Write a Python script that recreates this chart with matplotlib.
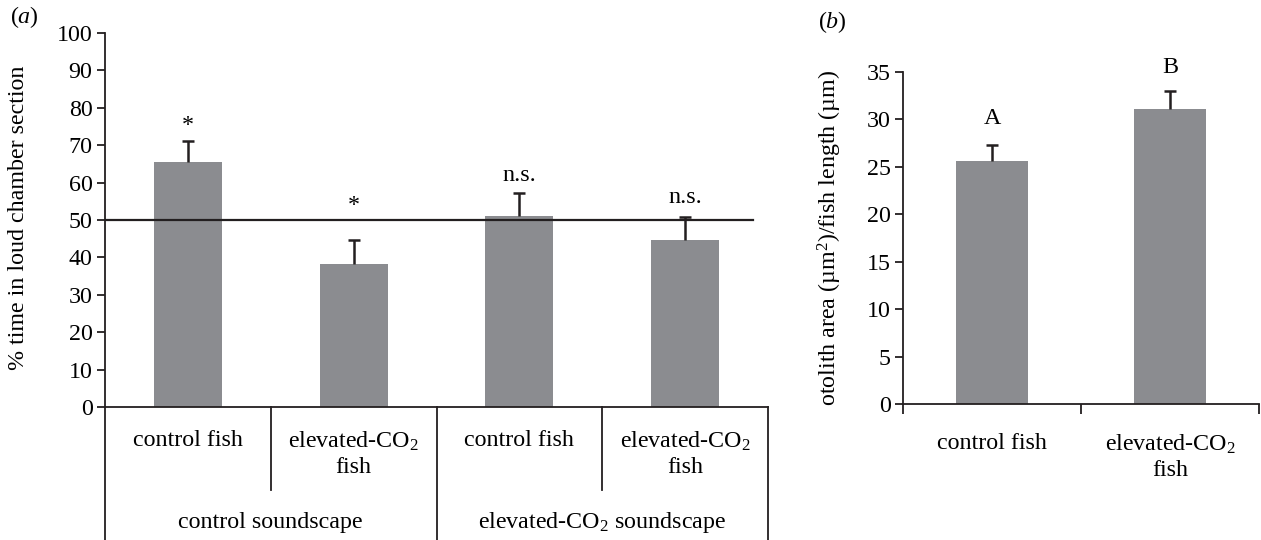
import matplotlib
matplotlib.use("Agg")
import matplotlib.pyplot as plt
import matplotlib.transforms as mtransforms

plt.rcParams['font.family'] = ['Liberation Serif', 'DejaVu Serif']
plt.rcParams['mathtext.fontset'] = 'custom'
plt.rcParams['mathtext.rm'] = 'Liberation Serif'
plt.rcParams['mathtext.it'] = 'Liberation Serif:italic'
plt.rcParams['mathtext.default'] = 'regular'
FS = 17.3

# panel (a) data
a_fish = ['control fish', 'elevated-CO$_2$\nfish', 'control fish', 'elevated-CO$_2$\nfish']
a_scape = ['control soundscape', 'elevated-CO$_2$ soundscape']
a_vals = [65.6, 38.2, 51.0, 44.6]
a_err = [5.5, 6.4, 6.1, 6.1]
a_sig = ['*', '*', 'n.s.', 'n.s.']
a_sig_y = [75.4, 53.8, 62.0, 56.0]
a_ticks = list(range(0, 101, 10))

# panel (b) data
b_cats = ['control fish', 'elevated-CO$_2$\nfish']
b_vals = [25.6, 31.1]
b_err = [1.7, 1.9]
b_sig = ['A', 'B']
b_sig_y = [30.1, 35.5]
b_ticks = list(range(0, 36, 5))

BAR = '#8b8c90'
INK = '#231f20'

fig = plt.figure(figsize=(12.61, 5.40), dpi=100)
axa = fig.add_axes([105/1261, 1-407/540, (768-105)/1261, (407-33)/540])
axb = fig.add_axes([903/1261, 1-404/540, (1259-903)/1261, (404-72)/540])

for ax in (axa, axb):
    for s in ('top', 'right'):
        ax.spines[s].set_visible(False)
    for s in ('left', 'bottom'):
        ax.spines[s].set_linewidth(1.3)
        ax.spines[s].set_color(INK)
    ax.tick_params(axis='y', direction='out', length=6, width=1.3, color=INK, labelsize=FS, pad=3)


def upper_errbar(ax, x, v, e):
    _, caps, _ = ax.errorbar(x, v, yerr=[[0]*len(e), e], fmt='none', ecolor=INK,
                             elinewidth=1.8, capsize=4.5, capthick=1.8, zorder=3)
    caps[0].set_visible(False)


# ---- panel (a)
xa = range(len(a_vals))
axa.bar(xa, a_vals, width=0.41, color=BAR, zorder=2)
upper_errbar(axa, xa, a_vals, a_err)
axa.axhline(50, xmin=0, xmax=(753-105)/(768-105), color=INK, lw=1.6, zorder=4)
for x, t, y in zip(xa, a_sig, a_sig_y):
    axa.text(x, y, t, ha='center', va='center', fontsize=FS)
axa.set_xlim(-0.5, 3.5)
axa.set_ylim(0, 100)
axa.set_yticks(a_ticks)
axa.set_xticks([])
axa.set_ylabel('% time in loud chamber section', fontsize=FS)
axa.yaxis.set_label_coords(-0.115, 0.505)

tr = mtransforms.blended_transform_factory(axa.transData, axa.transAxes)
for x, bottom in [(-0.5, -0.36), (0.5, -0.222), (1.5, -0.36), (2.5, -0.222), (3.5, -0.36)]:
    axa.plot([x, x], [0, bottom], transform=tr, color=INK, lw=1.3, clip_on=False)
for x, t in zip(xa, a_fish):
    axa.text(x, -0.062, t, transform=tr, ha='center', va='top', fontsize=FS,
             linespacing=1.2, multialignment='center')
for x, t in zip([0.5, 2.5], a_scape):
    axa.text(x, -0.31, t, transform=tr, ha='center', va='center', fontsize=FS)

# ---- panel (b)
xb = range(len(b_vals))
axb.bar(xb, b_vals, width=0.40, color=BAR, zorder=2)
upper_errbar(axb, xb, b_vals, b_err)
for x, t, y in zip(xb, b_sig, b_sig_y):
    axb.text(x, y, t, ha='center', va='center', fontsize=FS, clip_on=False)
axb.set_xlim(-0.5, 1.5)
axb.set_ylim(0, 35)
axb.set_yticks(b_ticks)
axb.set_xticks(list(xb))
axb.set_xticklabels(b_cats, fontsize=FS, linespacing=1.2, multialignment='center')
axb.tick_params(axis='x', which='major', length=0, pad=21)
axb.set_xticks([-0.5, 0.5, 1.5], minor=True)
axb.tick_params(axis='x', which='minor', direction='out', length=7, width=1.3, color=INK)
axb.set_ylabel('otolith area (µm$^2$)/fish length (µm)', fontsize=FS)
axb.yaxis.set_label_coords(-0.165, 0.5)

fig.text(10/1261, 1-17/540, '($\\mathit{a}$)', ha='left', va='center', fontsize=FS)
fig.text(818/1261, 1-22/540, '($\\mathit{b}$)', ha='left', va='center', fontsize=FS)

fig.savefig('out.png', dpi=100)
